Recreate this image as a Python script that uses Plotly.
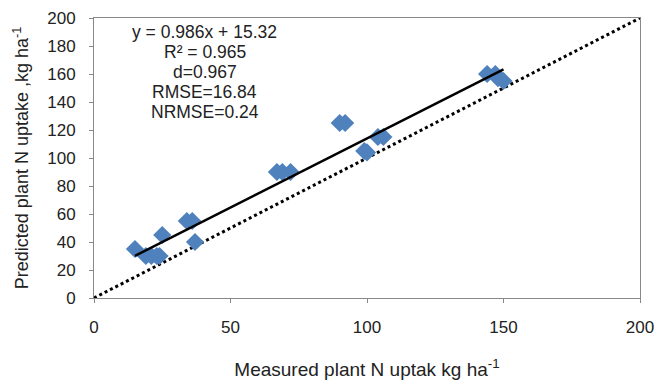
import plotly.graph_objects as go

measured = [15, 19, 21, 23, 24, 25, 34, 36, 37, 67, 69, 72, 90, 92, 99, 100, 104, 106, 144, 147, 148, 150]
predicted = [35, 30, 30, 30, 30, 45, 55, 55, 40, 90, 90, 90, 125, 125, 105, 104, 115, 115, 160, 160, 157, 155]
slope, intercept = 0.986, 15.32
fit_x = [15, 150]
one_x = [0, 200]
stats_lines = ["y = 0.986x + 15.32", "R² = 0.965", "d=0.967", "RMSE=16.84", "NRMSE=0.24"]
stats_y = [190, 175.7, 161.4, 147.1, 132.9]

FONT = "Liberation Sans, Arial"
fig = go.Figure()
fig.add_trace(go.Scatter(x=one_x, y=one_x, mode="lines",
                         line=dict(color="black", width=3, dash="dot"), hoverinfo="skip"))
fig.add_trace(go.Scatter(x=measured, y=predicted, mode="markers",
                         marker=dict(symbol="diamond", size=14, color="#4F81BD")))
fig.add_trace(go.Scatter(x=fit_x, y=[slope * v + intercept for v in fit_x], mode="lines",
                         line=dict(color="black", width=2.5)))

for txt, yy in zip(stats_lines, stats_y):
    fig.add_annotation(x=40.6, y=yy, xref="x", yref="y", text=txt,
                       showarrow=False, align="center", yanchor="middle",
                       font=dict(family=FONT, size=17.5, color="#222"))

axis_common = dict(showgrid=False, zeroline=False, showline=True, linecolor="#888", linewidth=1,
                   mirror=True, ticks="outside", ticklen=4, tickcolor="#888", automargin=False,
                   tickfont=dict(family=FONT, size=17, color="#222"))
fig.update_xaxes(range=[0, 200], dtick=50, ticklabelstandoff=10, **axis_common,
                 title=dict(text="Measured plant N uptak kg ha<sup>-1</sup>",
                            font=dict(family=FONT, size=19, color="#222"), standoff=28))
fig.update_yaxes(range=[0, 200], dtick=20, ticklabelstandoff=10, **axis_common,
                 title=dict(text="Predicted plant N uptake ,kg ha<sup>-1</sup>",
                            font=dict(family=FONT, size=18, color="#222"), standoff=13))
fig.update_layout(width=657, height=380, showlegend=False, plot_bgcolor="white", paper_bgcolor="white",
                  margin=dict(l=94, r=17, t=18, b=82))
fig.write_html("out.html")
